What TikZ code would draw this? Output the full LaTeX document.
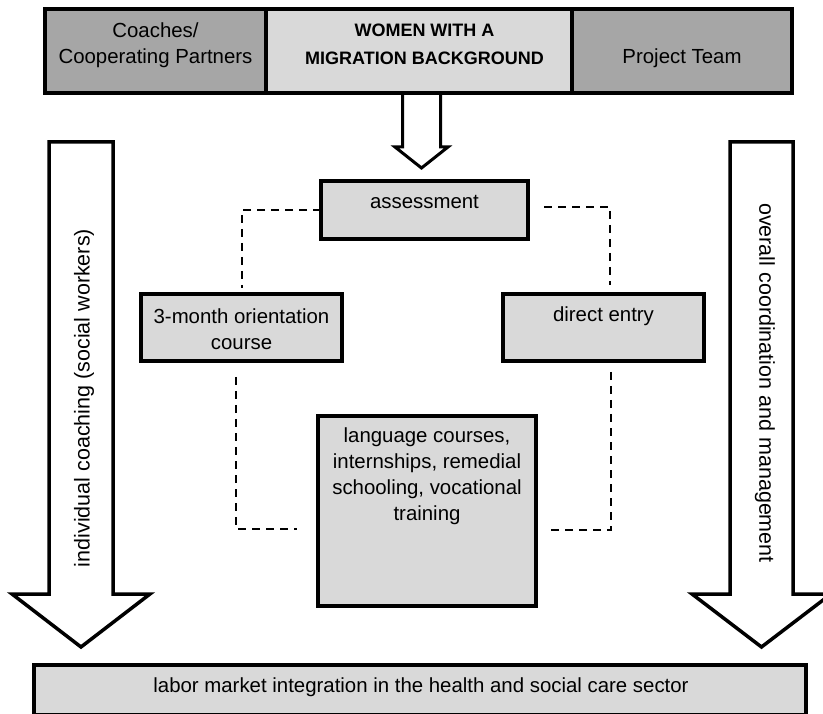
\documentclass[tikz,border=0pt]{standalone}
\usepackage{fontspec}
\setmainfont{Liberation Sans}
\usetikzlibrary{calc}
\definecolor{cellDark}{HTML}{A6A6A6}
\definecolor{cellLight}{HTML}{D9D9D9}
\begin{document}
\begin{tikzpicture}[x=1pt,y=-1pt,
  every node/.style={inner sep=0pt, outer sep=0pt},
  cell/.style={draw=black, line width=3.5pt, rectangle, minimum height=84pt},
  box/.style={draw=black, line width=3.5pt, fill=cellLight, rectangle},
  txt/.style={font=\fontsize{20.4}{26}\selectfont, align=center, text=black},
  sidetxt/.style={font=\fontsize{21.5}{26}\selectfont, text=black},
  blockarrow/.style={draw=black, fill=white, line width=3.5pt, line join=miter},
  smallarrow/.style={draw=black, fill=white, line width=3pt, line join=miter},
  link/.style={draw=black, line width=1.6pt, dash pattern=on 8pt off 6pt}
]
\useasboundingbox (0,0) rectangle (823,714);
\clip (0,0) rectangle (823,714);

% arrow from the target group down to the assessment
\draw[smallarrow] (402.5,93) -- (402.5,147) -- (395,147) -- (421.5,168)
  -- (448,147) -- (440.5,147) -- (440.5,93);

% header bar
\node[cell, fill=cellDark, minimum width=221pt] (coach) at (155.5,51) {};
\node[cell, fill=cellLight, minimum width=306pt] (women) at (419,51) {};
\node[cell, fill=cellDark, minimum width=220pt] (team) at (682,51) {};
\node[txt] (coachT) at (155.5,45) {Coaches/\\Cooperating Partners};
\node[txt, font=\fontsize{18}{27.5}\selectfont\bfseries] (womenT) at (424.5,44.5) {WOMEN WITH A\\MIGRATION BACKGROUND};
\node[txt] (teamT) at (682,58) {Project Team};

% side block arrows
\draw[blockarrow] (49,142) -- (113,142) -- (113,594) -- (150,594) -- (81,647)
  -- (12,594) -- (49,594) -- cycle;
\draw[blockarrow] (730,142) -- (793,142) -- (793,594) -- (831,594) -- (761.5,647)
  -- (692,594) -- (730,594) -- cycle;
\node[sidetxt, rotate=90] (coachingT) at (84,398) {individual coaching (social workers)};
\node[sidetxt, rotate=-90] (mgmtT) at (765,383) {overall coordination and management};

% process boxes
\node[box, minimum width=207pt, minimum height=58pt] (assess) at (424.5,210) {};
\node[txt] (assessT) at (424.5,202) {assessment};
\node[box, minimum width=201pt, minimum height=67pt] (orient) at (241.5,327.5) {};
\node[txt] (orientT) at (241.5,329) {3-month orientation\\course};
\node[box, minimum width=201pt, minimum height=67pt] (direct) at (603.5,327.5) {};
\node[txt] (directT) at (603.5,316) {direct entry};
\node[box, minimum width=218pt, minimum height=190pt] (measures) at (427,511) {};
\node[txt] (measuresT) at (427,476) {language courses,\\internships, remedial\\schooling, vocational\\training};
\node[box, minimum width=772pt, minimum height=50pt] (labor) at (420,690) {};
\node[txt] (laborT) at (421,687) {labor market integration in the health and social care sector};

% dashed links between the stages
\coordinate (aEnd) at (242,288);
\coordinate (bStart) at (544,207);
\coordinate (bEnd) at (610,285);
\coordinate (cStart) at (236,377);
\coordinate (cEnd) at (297,529);
\coordinate (dStart) at (611,372);
\coordinate (dEnd) at (551,530);
\draw[link] (assess.west) -| (aEnd);
\draw[link] (bStart) -| (bEnd);
\draw[link] (cStart) |- (cEnd);
\draw[link] (dStart) |- (dEnd);
\end{tikzpicture}
\end{document}
